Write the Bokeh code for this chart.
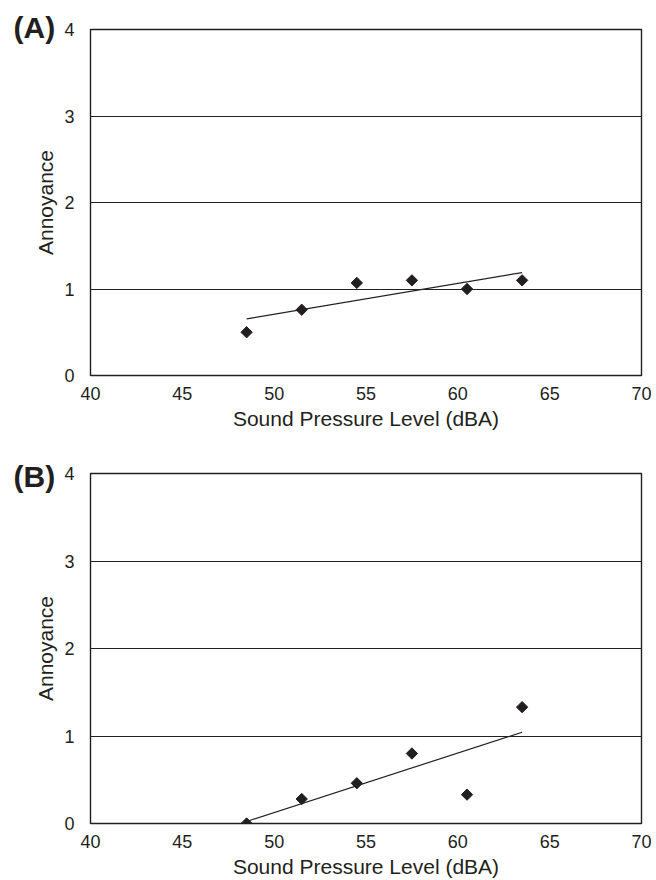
import numpy as np
from bokeh.plotting import figure
from bokeh.models import FixedTicker, Title
from bokeh.layouts import column
from bokeh.embed import file_html
from bokeh.resources import INLINE

# ---- data ----
spl = [48.5, 51.5, 54.5, 57.5, 60.5, 63.5]          # Sound Pressure Level (dBA)
annoy_a = [0.50, 0.76, 1.07, 1.10, 1.00, 1.10]      # panel (A)
annoy_b = [0.00, 0.28, 0.46, 0.80, 0.33, 1.33]      # panel (B)
x_ticks = [40, 45, 50, 55, 60, 65, 70]
y_ticks = [0, 1, 2, 3, 4]
panel_labels = ["(A)", "(B)"]
x_title = "Sound Pressure Level (dBA)"
y_title = "Annoyance"

FONT = "Liberation Sans"
INK = "#231f20"


def make_panel(yvals, label, height, top, bottom, right, label_standoff):
    p = figure(width=656, height=height, x_range=(40, 70), y_range=(0, 4),
               output_backend="svg", toolbar_location=None,
               min_border_left=90, min_border_right=right,
               min_border_top=top, min_border_bottom=bottom)
    p.background_fill_color = "white"
    p.border_fill_color = "white"
    p.outline_line_color = INK
    p.outline_line_width = 1.4
    p.outline_line_alpha = 1.0

    p.xgrid.visible = False
    p.ygrid.ticker = FixedTicker(ticks=y_ticks)
    p.ygrid.grid_line_color = INK
    p.ygrid.grid_line_width = 1.2
    p.ygrid.grid_line_alpha = 1.0

    for ax, ticks in ((p.xaxis[0], x_ticks), (p.yaxis[0], y_ticks)):
        ax.ticker = FixedTicker(ticks=ticks)
        ax.axis_line_color = None
        ax.major_tick_line_color = None
        ax.minor_tick_line_color = None
        ax.major_label_text_font = FONT
        ax.major_label_text_font_size = "18px"
        ax.major_label_text_color = INK
        ax.axis_label_text_font = FONT
        ax.axis_label_text_font_size = "21px"
        ax.axis_label_text_font_style = "normal"
        ax.axis_label_text_color = INK
    p.xaxis.axis_label = x_title
    p.yaxis.axis_label = y_title
    p.xaxis.major_label_standoff = 5
    p.xaxis.axis_label_standoff = 4
    p.yaxis.major_label_standoff = 10
    p.yaxis.axis_label_standoff = 4

    # linear trend line fitted to the data
    slope, intercept = np.polyfit(spl, yvals, 1)
    xs = [min(spl), max(spl)]
    p.line(xs, [slope * x + intercept for x in xs], line_color=INK, line_width=1.2)

    p.scatter(spl, yvals, marker="square", angle=np.pi / 4, size=8,
              fill_color=INK, line_color=INK)

    # panel letter, drawn as a left-aligned title pulled down beside the "4" tick
    t = Title(text=label, align="left", offset=-77, standoff=label_standoff,
              text_font=FONT, text_font_size="30px", text_font_style="bold",
              text_color=INK)
    p.add_layout(t, "above")
    return p


pa = make_panel(annoy_a, panel_labels[0], 440, 29, 65, 15, -28)
pb = make_panel(annoy_b, panel_labels[1], 440, 33, 54, 13, -39)

layout = column(pa, pb, spacing=0)
open("out.html", "w").write(file_html(layout, INLINE))
